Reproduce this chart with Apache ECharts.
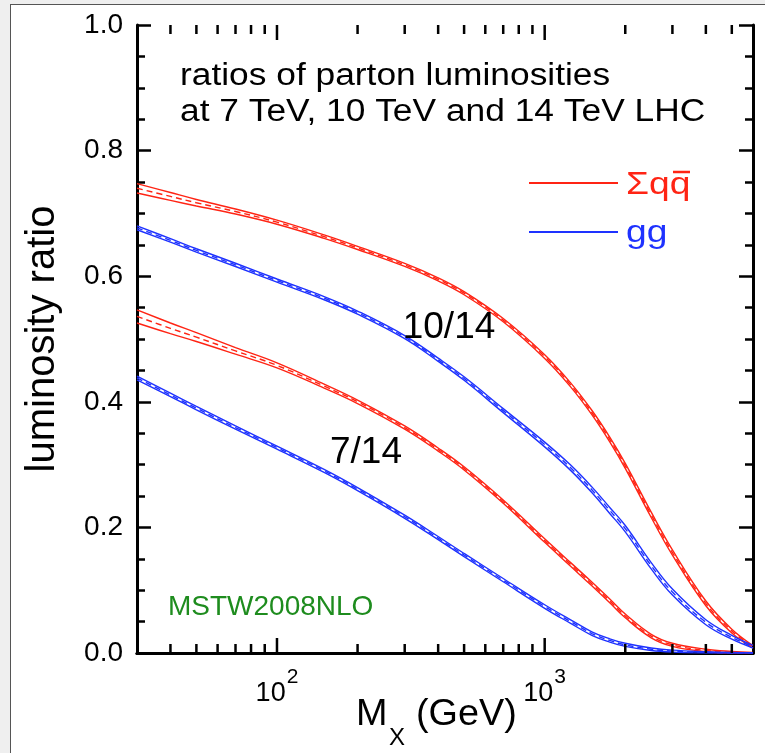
<!DOCTYPE html>
<html><head><meta charset="utf-8">
<script src="https://cdn.jsdelivr.net/npm/echarts@6/dist/echarts.min.js"></script>
<style>
html,body{margin:0;padding:0;background:#efefef;overflow:hidden;}
#frame{position:absolute;left:10px;top:4px;width:800px;height:800px;background:#fff;border-left:1.5px solid #555;border-top:1.5px solid #555;}
#c{position:absolute;left:0;top:0;width:765px;height:753px;}
</style>
</head><body><div id="frame"></div><div id="c"></div>
<script>
// M_X (GeV)
const mass   = [30, 40, 50, 70, 100, 150, 200, 300, 400, 500, 700, 1000, 1250, 1500, 1750, 2000, 2500, 3000, 4000, 5000, 6000];
// 10/14 TeV ratios (central value and half-width of the uncertainty band)
const qq10    = [0.740, 0.727, 0.717, 0.703, 0.686, 0.663, 0.645, 0.618, 0.595, 0.573, 0.530, 0.472, 0.427, 0.383, 0.340, 0.298, 0.220, 0.160, 0.079, 0.035, 0.010];
const qq10Err = [0.0075,0.0062,0.0052,0.0040,0.0032,0.0027,0.0025,0.0025,0.0025,0.0025,0.0026,0.0030,0.0032,0.0035,0.0038,0.0040,0.0042,0.0042,0.0038,0.0030,0.0020];
const gg10    = [0.677, 0.657, 0.641, 0.618, 0.593, 0.565, 0.542, 0.503, 0.467, 0.437, 0.386, 0.332, 0.295, 0.260, 0.227, 0.198, 0.139, 0.097, 0.049, 0.025, 0.010];
const gg10Err = [0.0030,0.0028,0.0027,0.0026,0.0025,0.0025,0.0025,0.0025,0.0026,0.0028,0.0032,0.0038,0.0042,0.0045,0.0048,0.0050,0.0050,0.0048,0.0040,0.0030,0.0020];
// 7/14 TeV ratios
const qq7     = [0.536, 0.517, 0.503, 0.481, 0.458, 0.425, 0.400, 0.359, 0.324, 0.294, 0.241, 0.179, 0.141, 0.110, 0.083, 0.059, 0.027, 0.013, 0.004, 0.001, 0.000];
const qq7Err  = [0.0105,0.0085,0.0070,0.0052,0.0040,0.0032,0.0028,0.0026,0.0025,0.0025,0.0026,0.0028,0.0029,0.0030,0.0030,0.0030,0.0028,0.0025,0.0020,0.0015,0.0010];
const gg7     = [0.438, 0.411, 0.390, 0.359, 0.327, 0.290, 0.261, 0.217, 0.183, 0.156, 0.116, 0.074, 0.050, 0.031, 0.020, 0.013, 0.006, 0.003, 0.001, 0.000, 0.000];
const gg7Err  = [0.0030,0.0028,0.0027,0.0026,0.0025,0.0025,0.0025,0.0025,0.0025,0.0025,0.0026,0.0028,0.0028,0.0028,0.0026,0.0025,0.0020,0.0015,0.0010,0.0008,0.0005];

const xMajorTicks = [100, 1000];
const xMinorTicks = [40, 50, 60, 70, 80, 90, 200, 300, 400, 500, 600, 700, 800, 900, 2000, 3000, 4000, 5000];
const yTickLabels = ['0.0', '0.2', '0.4', '0.6', '0.8', '1.0'];

const RED = '#ff2414';
const BLUE = '#1e32ff';
const FONT = 'Liberation Sans, Arial, sans-serif';

function band(name, vals, errs, color) {
  const common = {
    type: 'line', showSymbol: false, symbol: 'none', smooth: 0.4,
    silent: true, z: 3, animation: false
  };
  return [
    Object.assign({}, common, { name: name + ' up', data: mass.map((m, i) => [m, vals[i] + errs[i]]),
      lineStyle: { color: color, width: 1.4 } }),
    Object.assign({}, common, { name: name + ' low', data: mass.map((m, i) => [m, Math.max(0, vals[i] - errs[i])]),
      lineStyle: { color: color, width: 1.4 } }),
    Object.assign({}, common, { name: name, data: mass.map((m, i) => [m, vals[i]]),
      lineStyle: { color: color, width: 1.4, type: [6, 4] } })
  ];
}

function tickSeries(values, len) {
  return {
    type: 'custom', xAxisIndex: 0, yAxisIndex: 0, silent: true, clip: false, z: 5,
    data: values.map(v => [v, 0]), encode: { x: 0, y: 1 },
    renderItem: function (params, api) {
      const pb = api.coord([api.value(0), 0]);
      const pt = api.coord([api.value(0), 1]);
      return {
        type: 'group', children: [
          { type: 'line', shape: { x1: pb[0], y1: pb[1], x2: pb[0], y2: pb[1] - len }, style: { stroke: '#000', lineWidth: 2.5 } },
          { type: 'line', shape: { x1: pt[0], y1: pt[1], x2: pt[0], y2: pt[1] + len }, style: { stroke: '#000', lineWidth: 2.5 } }
        ]
      };
    }
  };
}

const chart = echarts.init(document.getElementById('c'), null, { renderer: 'canvas' });

const axisLineStyle = { show: true, lineStyle: { color: '#000', width: 3 } };

const option = {
  animation: false,
  grid: { left: 137, right: 12, top: 25, bottom: 100, containLabel: false },
  xAxis: [
    {
      type: 'log', logBase: 10, min: 30, max: 6000, position: 'bottom',
      axisLine: axisLineStyle, splitLine: { show: false },
      axisTick: { show: false },
      axisLabel: {
        show: true, margin: 14, showMinLabel: false, showMaxLabel: false,
        formatter: function (v) {
          const e = Math.log10(v);
          if (Math.abs(e - Math.round(e)) < 1e-6) return '{b|10}{s|' + Math.round(e) + '}';
          return '';
        },
        rich: {
          b: { fontFamily: FONT, fontSize: 27, color: '#000', lineHeight: 40, verticalAlign: 'bottom' },
          s: { fontFamily: FONT, fontSize: 21, color: '#000', lineHeight: 22, verticalAlign: 'top', padding: [0, 0, 0, 1] }
        }
      }
    },
    {
      type: 'log', logBase: 10, min: 30, max: 6000, position: 'top',
      axisLine: axisLineStyle, splitLine: { show: false },
      axisTick: { show: false },
      axisLabel: { show: false }
    }
  ],
  yAxis: [
    {
      type: 'value', min: 0, max: 1, interval: 0.2, position: 'left',
      axisLine: axisLineStyle, splitLine: { show: false },
      axisTick: { show: true, inside: true, length: 14, lineStyle: { color: '#000', width: 2.5 } },
      minorTick: { show: true, splitNumber: 4, length: 8, lineStyle: { color: '#000', width: 2.5 } },
      axisLabel: {
        show: true, margin: 14, fontFamily: FONT, fontSize: 28, color: '#000',
        formatter: function (v) { return yTickLabels[Math.round(v / 0.2)]; }
      },
      name: 'luminosity ratio', nameLocation: 'middle', nameGap: 74, nameRotate: 90,
      nameTextStyle: { fontFamily: FONT, fontSize: 40, color: '#000' }
    },
    {
      type: 'value', min: 0, max: 1, interval: 0.2, position: 'right',
      axisLine: axisLineStyle, splitLine: { show: false },
      axisTick: { show: true, inside: true, length: 14, lineStyle: { color: '#000', width: 2.5 } },
      minorTick: { show: true, splitNumber: 4, length: 8, lineStyle: { color: '#000', width: 2.5 } },
      axisLabel: { show: false }
    }
  ],
  series: [].concat(
    band('qq 10/14', qq10, qq10Err, RED),
    band('gg 10/14', gg10, gg10Err, BLUE),
    band('qq 7/14', qq7, qq7Err, RED),
    band('gg 7/14', gg7, gg7Err, BLUE),
    [tickSeries(xMajorTicks, 15), tickSeries(xMinorTicks, 9)]
  ),
  graphic: [
    { type: 'text', x: 180, y: 58, z: 10, scaleX: 1.14, originX: 0,
      style: { text: 'ratios of parton luminosities\nat 7 TeV, 10 TeV and 14 TeV LHC', fontFamily: FONT, fontSize: 31, lineHeight: 36, fill: '#000' } },
    { type: 'text', x: 449, y: 328, z: 10,
      style: { text: '10/14', fontFamily: FONT, fontSize: 37, fill: '#000', align: 'center', verticalAlign: 'middle' } },
    { type: 'text', x: 366, y: 453, z: 10,
      style: { text: '7/14', fontFamily: FONT, fontSize: 37, fill: '#000', align: 'center', verticalAlign: 'middle' } },
    { type: 'text', x: 168, y: 607, z: 10,
      style: { text: 'MSTW2008NLO', fontFamily: FONT, fontSize: 28, fill: '#1e8c1e', align: 'left', verticalAlign: 'middle' } },
    { type: 'line', z: 10, shape: { x1: 529, y1: 183, x2: 618, y2: 183 }, style: { stroke: RED, lineWidth: 2 } },
    { type: 'line', z: 10, shape: { x1: 529, y1: 232, x2: 618, y2: 232 }, style: { stroke: BLUE, lineWidth: 2 } },
    { type: 'text', x: 626, y: 185, z: 10, scaleX: 1.2, originX: 0,
      style: { text: 'Σqq', fontFamily: FONT, fontSize: 31, fill: RED, align: 'left', verticalAlign: 'middle' } },
    { type: 'line', z: 10, shape: { x1: 673, y1: 172, x2: 690, y2: 172 }, style: { stroke: RED, lineWidth: 2.5 } },
    { type: 'text', x: 626, y: 233, z: 10, scaleX: 1.2, originX: 0,
      style: { text: 'gg', fontFamily: FONT, fontSize: 31, fill: BLUE, align: 'left', verticalAlign: 'middle' } },
    // x-axis title  M_X (GeV)
    { type: 'text', x: 356, y: 715, z: 10, scaleX: 1.05, originX: 0,
      style: { text: 'M', fontFamily: FONT, fontSize: 36, fill: '#000', align: 'left', verticalAlign: 'middle' } },
    { type: 'text', x: 389, y: 738, z: 10,
      style: { text: 'X', fontFamily: FONT, fontSize: 24, fill: '#000', align: 'left', verticalAlign: 'middle' } },
    { type: 'text', x: 416, y: 715, z: 10, scaleX: 1.05, originX: 0,
      style: { text: '(GeV)', fontFamily: FONT, fontSize: 36, fill: '#000', align: 'left', verticalAlign: 'middle' } }
  ]
};
chart.setOption(option);
</script>
</body></html>
